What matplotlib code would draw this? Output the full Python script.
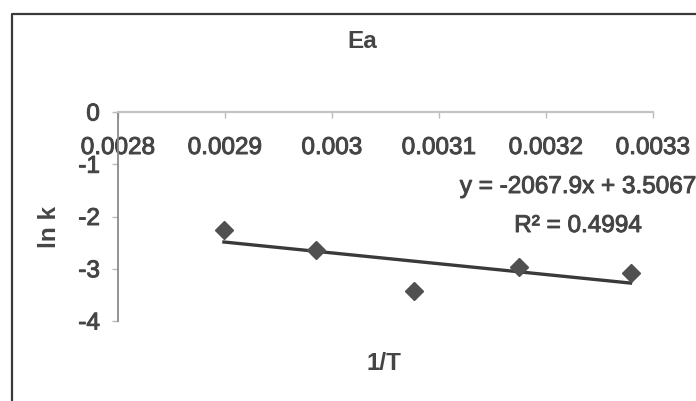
import numpy as np
import matplotlib
matplotlib.use('Agg')
import matplotlib.pyplot as plt
import matplotlib.patheffects as pe
from matplotlib.lines import Line2D

plt.rcParams['font.family'] = ['Liberation Sans', 'DejaVu Sans']

# data (1/T vs ln k)
inv_T = [0.002899, 0.002985, 0.003077, 0.003175, 0.003279]
ln_k = [-2.26, -2.65, -3.42, -2.96, -3.08]

# trendline as printed on the chart
slope = -2067.9
intercept = 3.5067
r_squared = 0.4994

x_ticks = [0.0028, 0.0029, 0.0030, 0.0031, 0.0032, 0.0033]
x_tick_labels = ['0.0028', '0.0029', '0.003', '0.0031', '0.0032', '0.0033']
y_ticks = [0, -1, -2, -3, -4]
y_tick_labels = ['0', '-1', '-2', '-3', '-4']

txt = '#454545'
fs = 17.5
# scanned text looks a little heavier than plain regular
thick = [pe.withStroke(linewidth=0.7, foreground=txt)]

fig = plt.figure(figsize=(6.96, 4.01), dpi=100)
fig.patch.set_facecolor('white')

# chart frame (runs off the right and bottom edge in the scan)
fx = 11.7 / 696
fy = 1 - 14 / 401
fig.add_artist(Line2D([fx, fx, 1.0], [0.0, fy, fy], transform=fig.transFigure,
                      color='#3a3a3a', lw=1.6))

ax = fig.add_axes([118 / 696, 1 - 321 / 401, 535 / 696, 209 / 401])
ax.set_facecolor('none')

ax.plot(inv_T, ln_k, linestyle='none', marker='D', markersize=9,
        color='#505050', zorder=3)

xt = np.array([min(inv_T), max(inv_T)])
ax.plot(xt, slope * xt + intercept, color='#3a3a3a', lw=2.4, zorder=2)

ax.set_xlim(0.0028, 0.0033)
ax.set_ylim(-4, 0)
ax.set_xticks(x_ticks)
ax.set_xticklabels(x_tick_labels)
ax.set_yticks(y_ticks)
ax.set_yticklabels(y_tick_labels)

# x axis crosses at y = 0, which is the top of the plot
ax.spines['bottom'].set_position(('data', 0))
ax.spines['bottom'].set_color('#c4c4c4')
ax.spines['bottom'].set_linewidth(1.6)
ax.spines['left'].set_color('#8a8a8a')
ax.spines['left'].set_linewidth(1.3)
ax.spines['top'].set_visible(False)
ax.spines['right'].set_visible(False)

ax.tick_params(axis='x', direction='out', length=4, width=1, color='#bbbbbb',
               labelsize=fs, labelcolor=txt, pad=14)
ax.tick_params(axis='y', direction='out', length=4, width=1, color='#bbbbbb',
               labelsize=fs, labelcolor=txt, pad=9)
for lab in ax.get_xticklabels() + ax.get_yticklabels():
    lab.set_path_effects(thick)

fig.text(362 / 696, 1 - 42 / 401, 'Ea', ha='center', va='center',
         fontsize=fs, fontweight='bold', color=txt)
fig.text(50 / 696, 1 - 227 / 401, 'ln k', ha='center', va='center',
         rotation=90, fontsize=fs, fontweight='bold', color=txt)
fig.text(384 / 696, 1 - 363 / 401, '1/T', ha='center', va='center',
         fontsize=fs, fontweight='bold', color=txt)

fig.text(578 / 696, 1 - 193 / 401, f'y = {slope}x + {intercept}',
         ha='center', va='baseline', fontsize=fs, color=txt, path_effects=thick)
fig.text(578 / 696, 1 - 232 / 401, f'R² = {r_squared}',
         ha='center', va='baseline', fontsize=fs, color=txt, path_effects=thick)

fig.savefig('out.png', dpi=100)
